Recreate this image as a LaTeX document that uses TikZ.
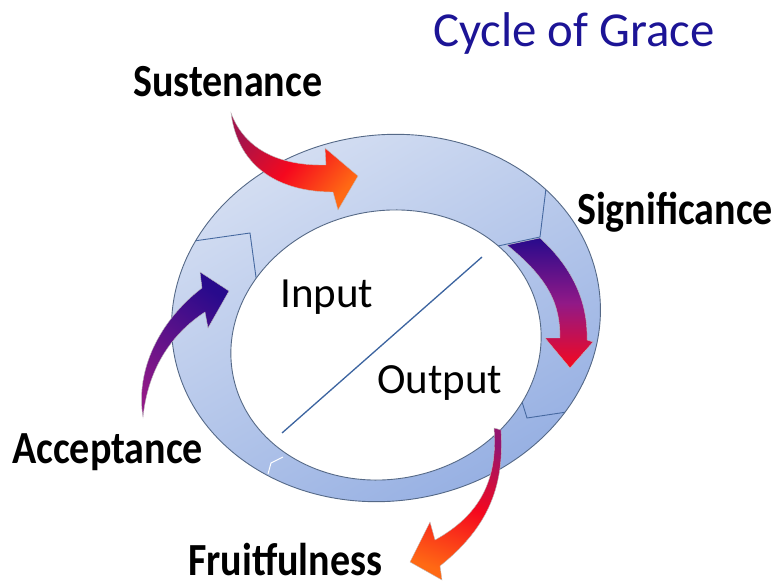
\documentclass[tikz,border=0pt]{standalone}
\usepackage{fontspec}
\setmainfont{Carlito}
\newfontfamily\tagfont{Carlito}[FakeStretch=0.87]
\definecolor{navy1}{RGB}{28, 20, 150}
\definecolor{ringline}{RGB}{85, 105, 135}
\definecolor{ringlight}{RGB}{212, 222, 242}
\definecolor{ringdark}{RGB}{148, 174, 226}
\definecolor{seam1}{RGB}{70, 105, 160}
\definecolor{slash1}{RGB}{60, 100, 160}
\definecolor{red1}{RGB}{245, 8, 30}
\definecolor{orange1}{RGB}{255, 105, 20}
\definecolor{wine1}{RGB}{165, 20, 75}
\definecolor{purple1}{RGB}{145, 25, 135}
\definecolor{magenta1}{RGB}{150, 20, 110}
\definecolor{indigo1}{RGB}{40, 10, 140}

\begin{document}
\begin{tikzpicture}[x=1pt, y=-1pt,
    tag/.style={font=\tagfont\bfseries\fontsize{46}{50}\selectfont, anchor=base west, inner sep=0pt},
    core/.style={font=\fontsize{43}{47}\selectfont, anchor=base west, inner sep=0pt},
    heading/.style={font=\fontsize{48.8}{52}\selectfont, text=navy1, anchor=base west, inner sep=0pt},
    rim/.style={draw=ringline, line width=0.9pt},
    seam/.style={draw=seam1, line width=0.9pt},
    blockarr/.style={draw=black!25, line width=0.4pt},
  ]
  \useasboundingbox (0,0) rectangle (779,585);

  % Ring
  \shade[even odd rule, top color=ringlight, bottom color=ringdark, shading angle=30]
    {[rotate around={8:(386,318)}] (386,318) ellipse [x radius=215, y radius=183]}
    {[rotate around={12:(386,345)}] (386,345) ellipse [x radius=156, y radius=134]};

  % Segment seams
  \begin{scope}
    \clip[rotate around={8:(386,318)}] (386,318) ellipse [x radius=215, y radius=183];
    \draw[seam] (180,243) -- (250,233) -- (258,292);
    \draw[seam] (548,172) -- (540,237) -- (498,246);
    \draw[seam] (519,392) -- (527,418) -- (580,410);
    \draw[white, line width=1pt] (268,474) -- (271,463) -- (283,457);
  \end{scope}

  \draw[rim, fill=white, rotate around={12:(386,345)}] (386,345) ellipse [x radius=156, y radius=134];
  \draw[rim, rotate around={8:(386,318)}] (386,318) ellipse [x radius=215, y radius=183];

  % Divider
  \coordinate (slashA) at (282,433);
  \coordinate (slashB) at (482,257);
  \draw[slash1, line width=1.3pt] (slashA) -- (slashB);

  % Arrows
  \shade[blockarr, top color=wine1, bottom color=orange1, middle color=red1, shading angle=50]
    (231,113) .. controls (245,150) and (280,166) .. (326,165)
    -- (325,148) -- (358,176) -- (338,210) -- (333,192)
    .. controls (280,192) and (238,168) .. (231,113) -- cycle;
  \shade[blockarr, top color=indigo1, bottom color=purple1, shading angle=-35]
    (143,417) .. controls (135,370) and (160,320) .. (202,288)
    -- (200,272) -- (229,291) -- (208,328) -- (205,312)
    .. controls (170,335) and (148,370) .. (143,417) -- cycle;
  \shade[blockarr, top color=indigo1, bottom color=red1, middle color=purple1]
    (507,245) -- (540,238) .. controls (575,270) and (588,305) .. (587,340)
    -- (593,342) -- (570,368) -- (545,338) -- (560,338)
    .. controls (560,305) and (550,280) .. (507,245) -- cycle;
  \shade[blockarr, top color=magenta1, bottom color=orange1, middle color=red1, shading angle=-20]
    (494,428) -- (501,430) .. controls (505,490) and (485,530) .. (440,566)
    -- (442,580) -- (410,562) -- (430,522) -- (435,540)
    .. controls (480,515) and (498,480) .. (494,428) -- cycle;

  % Labels
  \node[heading] (heading) at (433,47) {Cycle of Grace};
  \node[tag] (sust) at (133,97) {Sustenance};
  \node[tag] (sig) at (577,225) {Significance};
  \node[tag] (acc) at (12,463) {Acceptance};
  \node[tag] (fruit) at (188,575) {Fruitfulness};
  \node[core] (inp) at (280,308) {Input};
  \node[core] (outp) at (377,393) {Output};

\end{tikzpicture}
\end{document}
